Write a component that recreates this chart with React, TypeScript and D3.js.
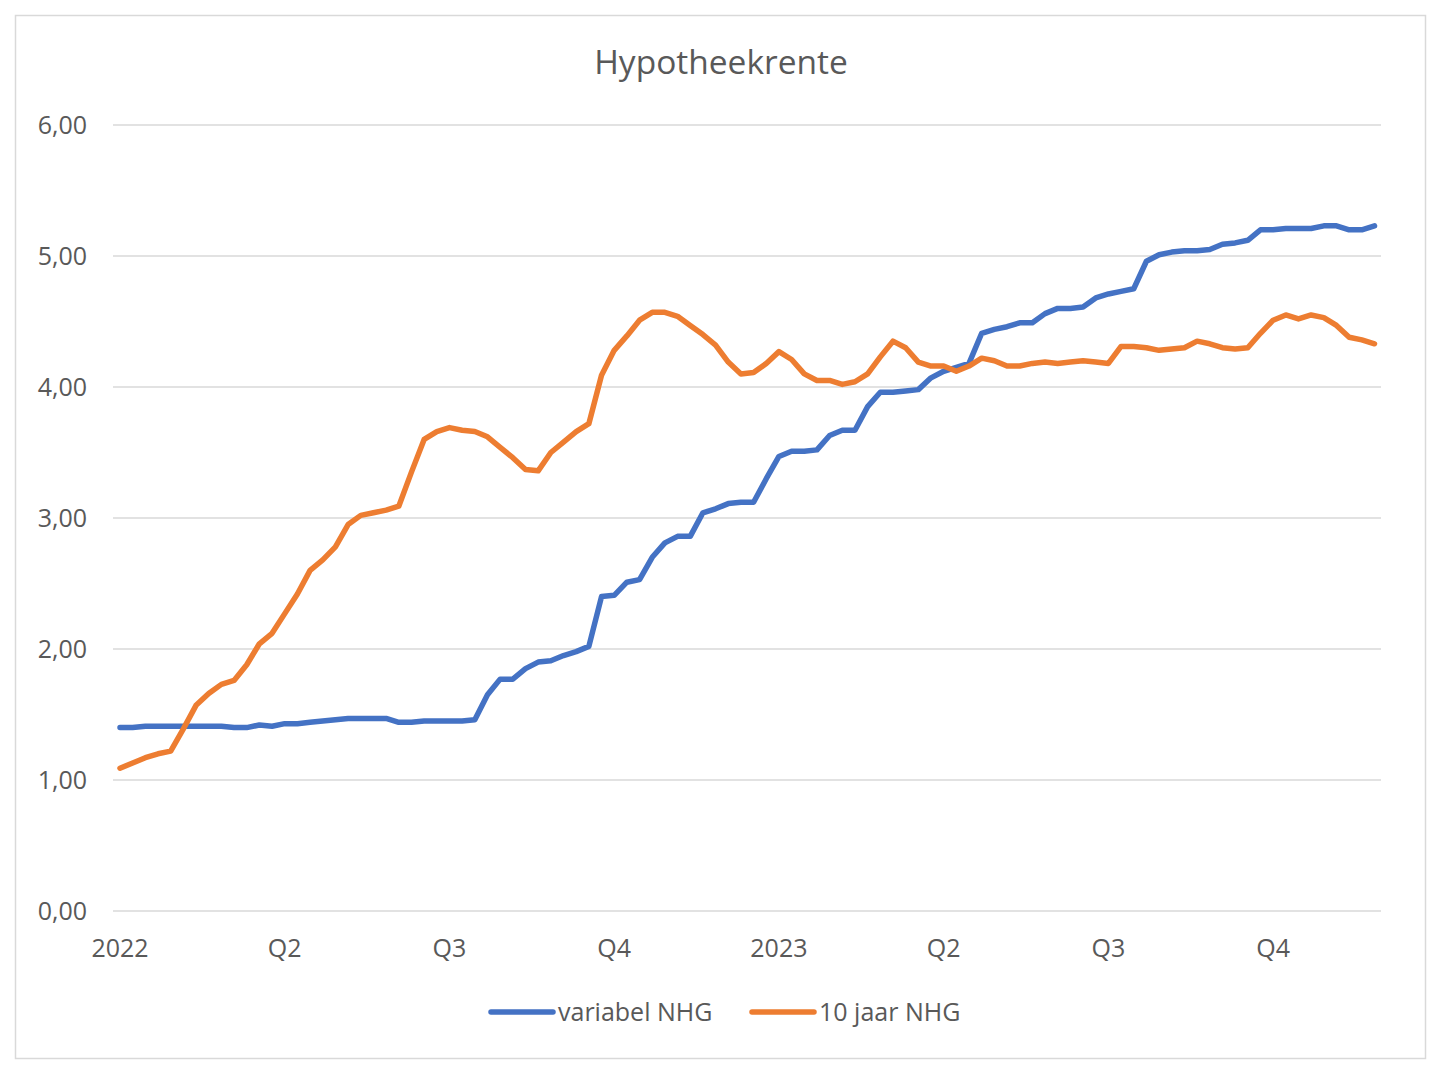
import { useRef, useEffect } from 'react';
import * as d3 from 'd3';

// weekly observations, Jan 2022 - Nov 2023
const variabel = [
  1.40, 1.40, 1.41, 1.41, 1.41, 1.41, 1.41, 1.41, 1.41, 1.40,
  1.40, 1.42, 1.41, 1.43, 1.43, 1.44, 1.45, 1.46, 1.47, 1.47,
  1.47, 1.47, 1.44, 1.44, 1.45, 1.45, 1.45, 1.45, 1.46, 1.65,
  1.77, 1.77, 1.85, 1.90, 1.91, 1.95, 1.98, 2.02, 2.40, 2.41,
  2.51, 2.53, 2.70, 2.81, 2.86, 2.86, 3.04, 3.07, 3.11, 3.12,
  3.12, 3.30, 3.47, 3.51, 3.51, 3.52, 3.63, 3.67, 3.67, 3.85,
  3.96, 3.96, 3.97, 3.98, 4.07, 4.12, 4.15, 4.18, 4.41, 4.44,
  4.46, 4.49, 4.49, 4.56, 4.60, 4.60, 4.61, 4.68, 4.71, 4.73,
  4.75, 4.96, 5.01, 5.03, 5.04, 5.04, 5.05, 5.09, 5.10, 5.12,
  5.20, 5.20, 5.21, 5.21, 5.21, 5.23, 5.23, 5.20, 5.20, 5.23,
];

const tienJaar = [
  1.09, 1.13, 1.17, 1.20, 1.22, 1.39, 1.57, 1.66, 1.73, 1.76,
  1.88, 2.04, 2.12, 2.27, 2.42, 2.60, 2.68, 2.78, 2.95, 3.02,
  3.04, 3.06, 3.09, 3.35, 3.60, 3.66, 3.69, 3.67, 3.66, 3.62,
  3.54, 3.46, 3.37, 3.36, 3.50, 3.58, 3.66, 3.72, 4.09, 4.28,
  4.39, 4.51, 4.57, 4.57, 4.54, 4.47, 4.40, 4.32, 4.19, 4.10,
  4.11, 4.18, 4.27, 4.21, 4.10, 4.05, 4.05, 4.02, 4.04, 4.10,
  4.23, 4.35, 4.30, 4.19, 4.16, 4.16, 4.12, 4.16, 4.22, 4.20,
  4.16, 4.16, 4.18, 4.19, 4.18, 4.19, 4.20, 4.19, 4.18, 4.31,
  4.31, 4.30, 4.28, 4.29, 4.30, 4.35, 4.33, 4.30, 4.29, 4.30,
  4.41, 4.51, 4.55, 4.52, 4.55, 4.53, 4.47, 4.38, 4.36, 4.33,
];

// quarter labels sit every 13 weeks
const tickWeeks = [0, 13, 26, 39, 52, 65, 78, 91];
const tickLabels = ['2022', 'Q2', 'Q3', 'Q4', '2023', 'Q2', 'Q3', 'Q4'];
const yTicks = [0, 1, 2, 3, 4, 5, 6];

const series = [
  { name: 'variabel NHG', values: variabel, color: '#4472C4' },
  { name: '10 jaar NHG', values: tienJaar, color: '#ED7D31' },
];

const W = 1440;
const H = 1076;
const FONT = '"Open Sans", "Noto Sans", sans-serif';
const TEXT = '#595959';

export default function App() {
  const svgRef = useRef<SVGSVGElement>(null);

  useEffect(() => {
    const svg = d3.select(svgRef.current);
    svg.selectAll('*').remove();

    const x = d3.scaleLinear().domain([0, variabel.length - 1]).range([120, 1374.5]);
    const y = d3.scaleLinear().domain([0, 6]).range([911, 125]);
    const plotLeft = 113;
    const plotRight = 1381;

    svg.append('rect')
      .attr('x', 15.5).attr('y', 15.5)
      .attr('width', 1410).attr('height', 1043)
      .attr('fill', '#fff')
      .attr('stroke', '#d9d9d9')
      .attr('stroke-width', 1.5);

    svg.append('text')
      .attr('x', 721).attr('y', 74)
      .attr('text-anchor', 'middle')
      .attr('font-family', FONT)
      .attr('font-size', 33.5)
      .attr('fill', TEXT)
      .text('Hypotheekrente');

    // gridlines + y labels
    const fmt = (v: number) => v.toFixed(2).replace('.', ',');
    yTicks.forEach((t) => {
      svg.append('line')
        .attr('x1', plotLeft).attr('x2', plotRight)
        .attr('y1', y(t)).attr('y2', y(t))
        .attr('stroke', '#d9d9d9')
        .attr('stroke-width', 1.5);
      svg.append('text')
        .attr('x', 87).attr('y', y(t))
        .attr('dy', '0.36em')
        .attr('text-anchor', 'end')
        .attr('font-family', FONT)
        .attr('font-size', 25)
        .attr('fill', TEXT)
        .text(fmt(t));
    });

    tickWeeks.forEach((w, i) => {
      svg.append('text')
        .attr('x', x(w)).attr('y', 957)
        .attr('text-anchor', 'middle')
        .attr('font-family', FONT)
        .attr('font-size', 25)
        .attr('fill', TEXT)
        .text(tickLabels[i]);
    });

    const line = d3.line<number>()
      .x((_, i) => x(i))
      .y((d) => y(d));

    series.forEach((s) => {
      svg.append('path')
        .datum(s.values)
        .attr('d', line)
        .attr('fill', 'none')
        .attr('stroke', s.color)
        .attr('stroke-width', 5.5)
        .attr('stroke-linejoin', 'round')
        .attr('stroke-linecap', 'round');
    });

    // legend
    const legendX = [491, 752];
    series.forEach((s, i) => {
      const lx = legendX[i];
      svg.append('line')
        .attr('x1', lx).attr('x2', lx + 62)
        .attr('y1', 1012).attr('y2', 1012)
        .attr('stroke', s.color)
        .attr('stroke-width', 5.5)
        .attr('stroke-linecap', 'round');
      svg.append('text')
        .attr('x', lx + 67).attr('y', 1012)
        .attr('dy', '0.36em')
        .attr('font-family', FONT)
        .attr('font-size', 25)
        .attr('fill', TEXT)
        .text(s.name);
    });
  }, []);

  return (
    <div style={{ position: 'absolute', left: 0, top: 0 }}>
      <svg ref={svgRef} width={W} height={H} style={{ display: 'block', background: '#fff' }} />
    </div>
  );
}
